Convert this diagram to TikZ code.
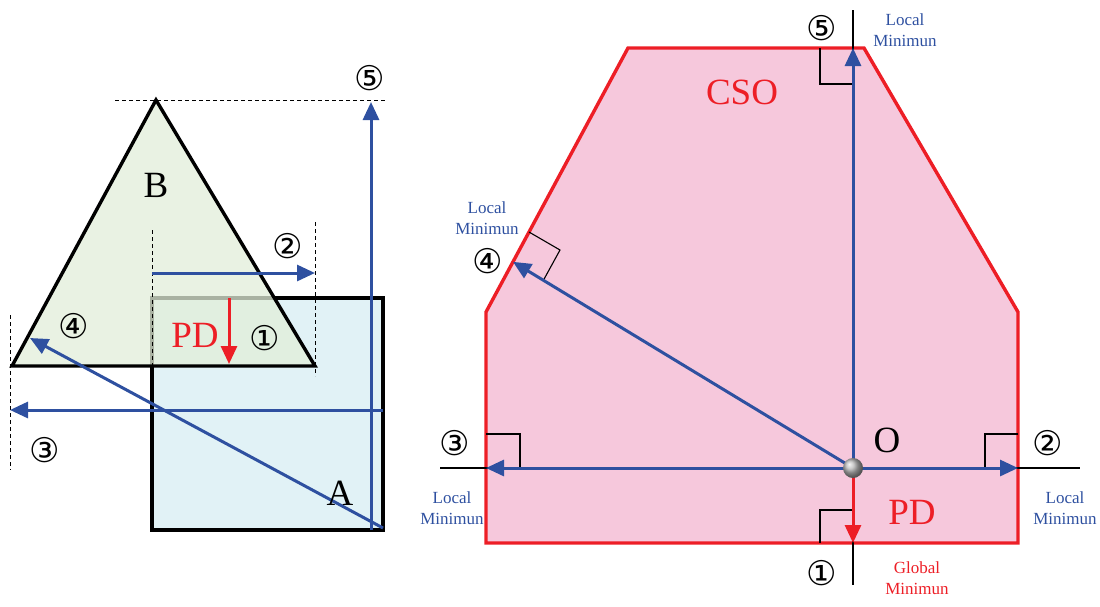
\documentclass[tikz,border=0pt]{standalone}
\usepackage{fontspec}
\setmainfont{Liberation Serif}
\newfontfamily\circfont{DejaVu Sans}
\usetikzlibrary{arrows.meta,calc}

\definecolor{cblue}{RGB}{46,80,160}
\definecolor{cred}{RGB}{237,30,38}
\definecolor{cpink}{RGB}{246,200,220}
\definecolor{cgreen}{RGB}{226,238,217}
\definecolor{ccyan}{RGB}{225,242,246}

\tikzset{
  num/.style={font=\circfont\fontsize{34}{34}\selectfont},
  big/.style={font=\fontsize{37}{37}\selectfont},
  minlabel/.style={text=cblue, align=center, font=\fontsize{17}{21}\selectfont},
  shape line/.style={line width=3.4pt},
  bluearrow/.style={cblue, line width=3pt, ->},
  redarrow/.style={cred, line width=3pt, ->},
  axisline/.style={black, line width=2.6pt},
  rightmark/.style={black, line width=1.1pt},
  guide/.style={black, line width=0.9pt, dash pattern=on 4pt off 3pt}
}

\begin{document}
\begin{tikzpicture}[x=1pt, y=-1pt, >={Triangle[length=18pt,width=16pt]}]
\useasboundingbox (0,0) rectangle (1100,606);

% left: objects A and B
\coordinate (Atl) at (152,298);
\coordinate (Abr) at (383,530);
\coordinate (Bt) at (156,100);
\coordinate (Bl) at (12,366);
\coordinate (Br) at (315,366);
\draw[shape line, fill=ccyan] (Atl) rectangle (Abr);
\draw[shape line, fill=cgreen, fill opacity=0.75] (Bt) -- (Bl) -- (Br) -- cycle;

\draw[guide] (115,100) -- (385,100);
\draw[guide] (152,230) -- (152,366);
\draw[guide] (315,222) -- (315,376);
\draw[guide] (10,315) -- (10,470);

\coordinate (s2) at (152,273);
\coordinate (e2) at (315,273);
\coordinate (s5) at (371,530);
\coordinate (e5) at (371,102);
\coordinate (s3) at (383,410);
\coordinate (e3) at (10,410);
\coordinate (s4) at (383,528);
\coordinate (e4) at (30,338);
\coordinate (s1) at (229,298);
\coordinate (e1) at (229,364);
\draw[bluearrow] (s2) -- (e2);
\draw[bluearrow] (s5) -- (e5);
\draw[bluearrow] (s3) -- (e3);
\draw[bluearrow] (s4) -- (e4);
\draw[redarrow] (s1) -- (e1);

\node[num] (l5) at (370,78) {⑤};
\node[big] (lB) at (156,185) {B};
\node[num] (l2) at (288,246) {②};
\node[num] (l4) at (74,326) {④};
\node[big, text=cred] (lPD) at (195,335) {PD};
\node[num] (l1) at (265,338) {①};
\node[num] (l3) at (45,450) {③};
\node[big] (lA) at (340,493) {A};

% right: configuration space obstacle
\coordinate (c1) at (628,48);
\coordinate (c2) at (864,48);
\coordinate (c3) at (1018,312);
\coordinate (c4) at (1018,543);
\coordinate (c5) at (486,543);
\coordinate (c6) at (486,312);
\coordinate (O) at (853,468);
\draw[cred, shape line, fill=cpink] (c1) -- (c2) -- (c3) -- (c4) -- (c5) -- (c6) -- cycle;

\draw[axisline] (440,468) -- (1080,468);
\draw[axisline] (853,10) -- (853,585);

\draw[rightmark] (820,48) -- (820,84) -- (853,84);
\draw[rightmark] (486,434) -- (520,434) -- (520,468);
\draw[rightmark] (1018,434) -- (985,434) -- (985,468);
\draw[rightmark] (853,510) -- (820,510) -- (820,543);
\draw[rightmark] (529,232) -- (560,250) -- (543,281);

\coordinate (t2) at (1018,468);
\coordinate (t3) at (486,468);
\coordinate (t5) at (853,48);
\coordinate (t4) at ($(c1)!0.81!(c6)$);
\coordinate (t1) at (853,543);
\draw[bluearrow] (O) -- (t2);
\draw[bluearrow] (O) -- (t3);
\draw[bluearrow] (O) -- (t5);
\draw[bluearrow] (O) -- (t4);
\draw[redarrow] (O) -- (t1);
\shade[ball color=gray!55] (O) circle (10);

\node[num] (r5) at (822,28) {⑤};
\node[minlabel] (m5) at (905,30) {Local\\Minimun};
\node[big, text=cred] (cso) at (742,92) {CSO};
\node[minlabel] (m4) at (487,218) {Local\\Minimun};
\node[num] (r4) at (488,261) {④};
\node[num] (r3) at (455,443) {③};
\node[minlabel] (m3) at (452,508) {Local\\Minimun};
\node[big] (lO) at (887,440) {O};
\node[num] (r2) at (1048,443) {②};
\node[minlabel] (m2) at (1065,508) {Local\\Minimun};
\node[big, text=cred] (rPD) at (912,512) {PD};
\node[num] (r1) at (822,573) {①};
\node[minlabel, text=cred] (g1) at (917,578) {Global\\Minimun};
\end{tikzpicture}
\end{document}
